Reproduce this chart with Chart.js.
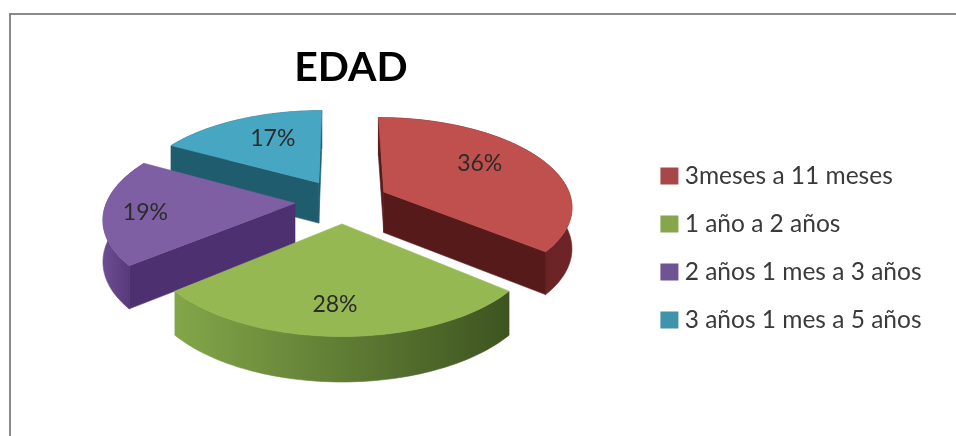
<!DOCTYPE html>
<html>
<head>
<meta charset="utf-8">
<title>EDAD</title>
<script src="https://cdn.jsdelivr.net/npm/chart.js@4"></script>
<style>
    html, body { margin: 0; padding: 0; background: #fff; overflow: hidden; }
    canvas { display: block; }
</style>
</head>
<body>
<canvas id="edadChart" width="956" height="436"></canvas>
<script>
const categories = ['3meses a 11 meses', '1 año a 2 años', '2 años 1 mes a 3 años', '3 años 1 mes a 5 años'];
const percentages = [36, 28, 19, 17];

const topColors = ['#c0504d', '#95b853', '#7f5fa3', '#47a7c2'];
const legendBorders = ['#a8474a', '#86a64b', '#6f5392', '#3f93aa'];
const faceColors = ['#571a1b', '#4a6327', '#4d3070', '#1f5c6d'];
const rimColors = [['#5a1a1b', '#6e2426'], ['#83a649', '#3d5420'], ['#6c4d91', '#4d3070'], ['#2a7186', '#1f5c6d']];
const labelNudges = [[-7, -6], [-7, 12], [-26, 4], [8, -1]];

const PIE_RADIUS = 188;
const TILT = 88 / PIE_RADIUS; // vertical squash of the pie plane
const PERSPECTIVE = 0.15;     // how fast things shrink towards the back
const DEPTH = 41;             // height of the extruded side
const PIE_SHIFT = [-9, -63];
const LABEL_RADIUS = 0.65;

// plane coordinates are in radius units, v grows towards the viewer
function project(center, radius, u, v, lifted) {
    const w = 1 / (1 - PERSPECTIVE * v);
    return {
        x: center.x + radius * u * w,
        y: center.y + radius * TILT * v * w + (lifted ? DEPTH * Math.sqrt(w) : 0)
    };
}

function fillPath(ctx, points, style) {
    ctx.beginPath();
    points.forEach((p, i) => i ? ctx.lineTo(p.x, p.y) : ctx.moveTo(p.x, p.y));
    ctx.closePath();
    ctx.fillStyle = style;
    ctx.fill();
    ctx.strokeStyle = style;
    ctx.lineWidth = 0.6;
    ctx.stroke();
}

// Reads the geometry of one arc element and turns it into plane coordinates
function sliceShape(arc) {
    const radius = arc.outerRadius;
    const mid = (arc.startAngle + arc.endAngle) / 2;
    const explode = (arc.options.offset / 4) / radius;
    const apex = { u: Math.cos(mid) * explode, v: Math.sin(mid) * explode };
    const outer = [];
    const steps = 60;
    for (let i = 0; i <= steps; i++) {
        const a = arc.startAngle + (arc.endAngle - arc.startAngle) * i / steps;
        outer.push({ u: apex.u + Math.cos(a), v: apex.v + Math.sin(a) });
    }
    return { radius, mid, apex, outer, startAngle: arc.startAngle, endAngle: arc.endAngle };
}

// a cut face is seen only when its outward normal points at the eye
function faceVisible(apex, normalAngle) {
    const toEyeU = -apex.u;
    const toEyeV = 1 / PERSPECTIVE - apex.v;
    return Math.cos(normalAngle) * toEyeU + Math.sin(normalAngle) * toEyeV > 0;
}

const pie3d = {
    id: 'pie3d',
    beforeDraw(chart) {
        // frame of the chart, only its top and left edges are in view
        const ctx = chart.ctx;
        ctx.save();
        ctx.fillStyle = '#8a8a8a';
        ctx.fillRect(9, 13, chart.width - 9, 2);
        ctx.fillRect(9, 13, 2, chart.height - 13);
        ctx.restore();
    },
    // the flat arcs are replaced by the extruded ones below
    beforeDatasetDraw() {
        return false;
    },
    afterDatasetsDraw(chart) {
        const ctx = chart.ctx;
        const arcs = chart.getDatasetMeta(0).data;
        const shapes = arcs.map(sliceShape);
        const center = { x: arcs[0].x + PIE_SHIFT[0], y: arcs[0].y + PIE_SHIFT[1] };
        const order = arcs.map((_, i) => i).sort((a, b) => shapes[a].apex.v - shapes[b].apex.v);

        order.forEach(i => {
            const s = shapes[i];
            const top = s.outer.map(p => project(center, s.radius, p.u, p.v, false));
            const bottom = s.outer.map(p => project(center, s.radius, p.u, p.v, true));
            const apexTop = project(center, s.radius, s.apex.u, s.apex.v, false);
            const apexBottom = project(center, s.radius, s.apex.u, s.apex.v, true);

            const xs = top.map(p => p.x);
            const rim = ctx.createLinearGradient(Math.min(...xs), 0, Math.max(...xs), 0);
            rim.addColorStop(0, rimColors[i][0]);
            rim.addColorStop(1, rimColors[i][1]);
            fillPath(ctx, top.concat(bottom.slice().reverse()), rim);

            const last = top.length - 1;
            if (faceVisible(s.apex, s.startAngle - Math.PI / 2)) {
                fillPath(ctx, [apexTop, top[0], bottom[0], apexBottom], faceColors[i]);
            }
            if (faceVisible(s.apex, s.endAngle + Math.PI / 2)) {
                fillPath(ctx, [apexTop, top[last], bottom[last], apexBottom], faceColors[i]);
            }

            fillPath(ctx, [apexTop].concat(top), topColors[i]);
        });

        ctx.save();
        ctx.font = '23px Lato';
        ctx.fillStyle = '#2b2b2b';
        ctx.textAlign = 'center';
        ctx.textBaseline = 'middle';
        shapes.forEach((s, i) => {
            const p = project(center, s.radius,
                s.apex.u + Math.cos(s.mid) * LABEL_RADIUS,
                s.apex.v + Math.sin(s.mid) * LABEL_RADIUS, false);
            ctx.fillText(percentages[i] + '%', p.x + labelNudges[i][0], p.y + labelNudges[i][1]);
        });
        ctx.restore();
    }
};

new Chart(document.getElementById('edadChart').getContext('2d'), {
    type: 'pie',
    data: {
        labels: categories,
        datasets: [{
            data: percentages,
            backgroundColor: topColors,
            borderColor: legendBorders,
            borderWidth: 12,   // only the legend swatches stroke with this
            radius: PIE_RADIUS,
            offset: PIE_RADIUS
        }]
    },
    plugins: [pie3d],
    options: {
        responsive: false,
        animation: false,
        layout: { padding: { left: 59, top: 43, right: 24.5, bottom: -17 } },
        plugins: {
            tooltip: { enabled: false },
            title: {
                display: true,
                text: 'EDAD',
                fullSize: false,
                color: '#000',
                padding: 0,
                font: { family: 'Lato', size: 41, weight: 'bold' }
            },
            legend: {
                position: 'right',
                labels: {
                    color: '#3a3a3a',
                    boxWidth: 6,
                    boxHeight: 5,
                    padding: 23.5,
                    font: { family: 'Lato', size: 24.5 }
                }
            }
        }
    }
});
</script>
</body>
</html>
